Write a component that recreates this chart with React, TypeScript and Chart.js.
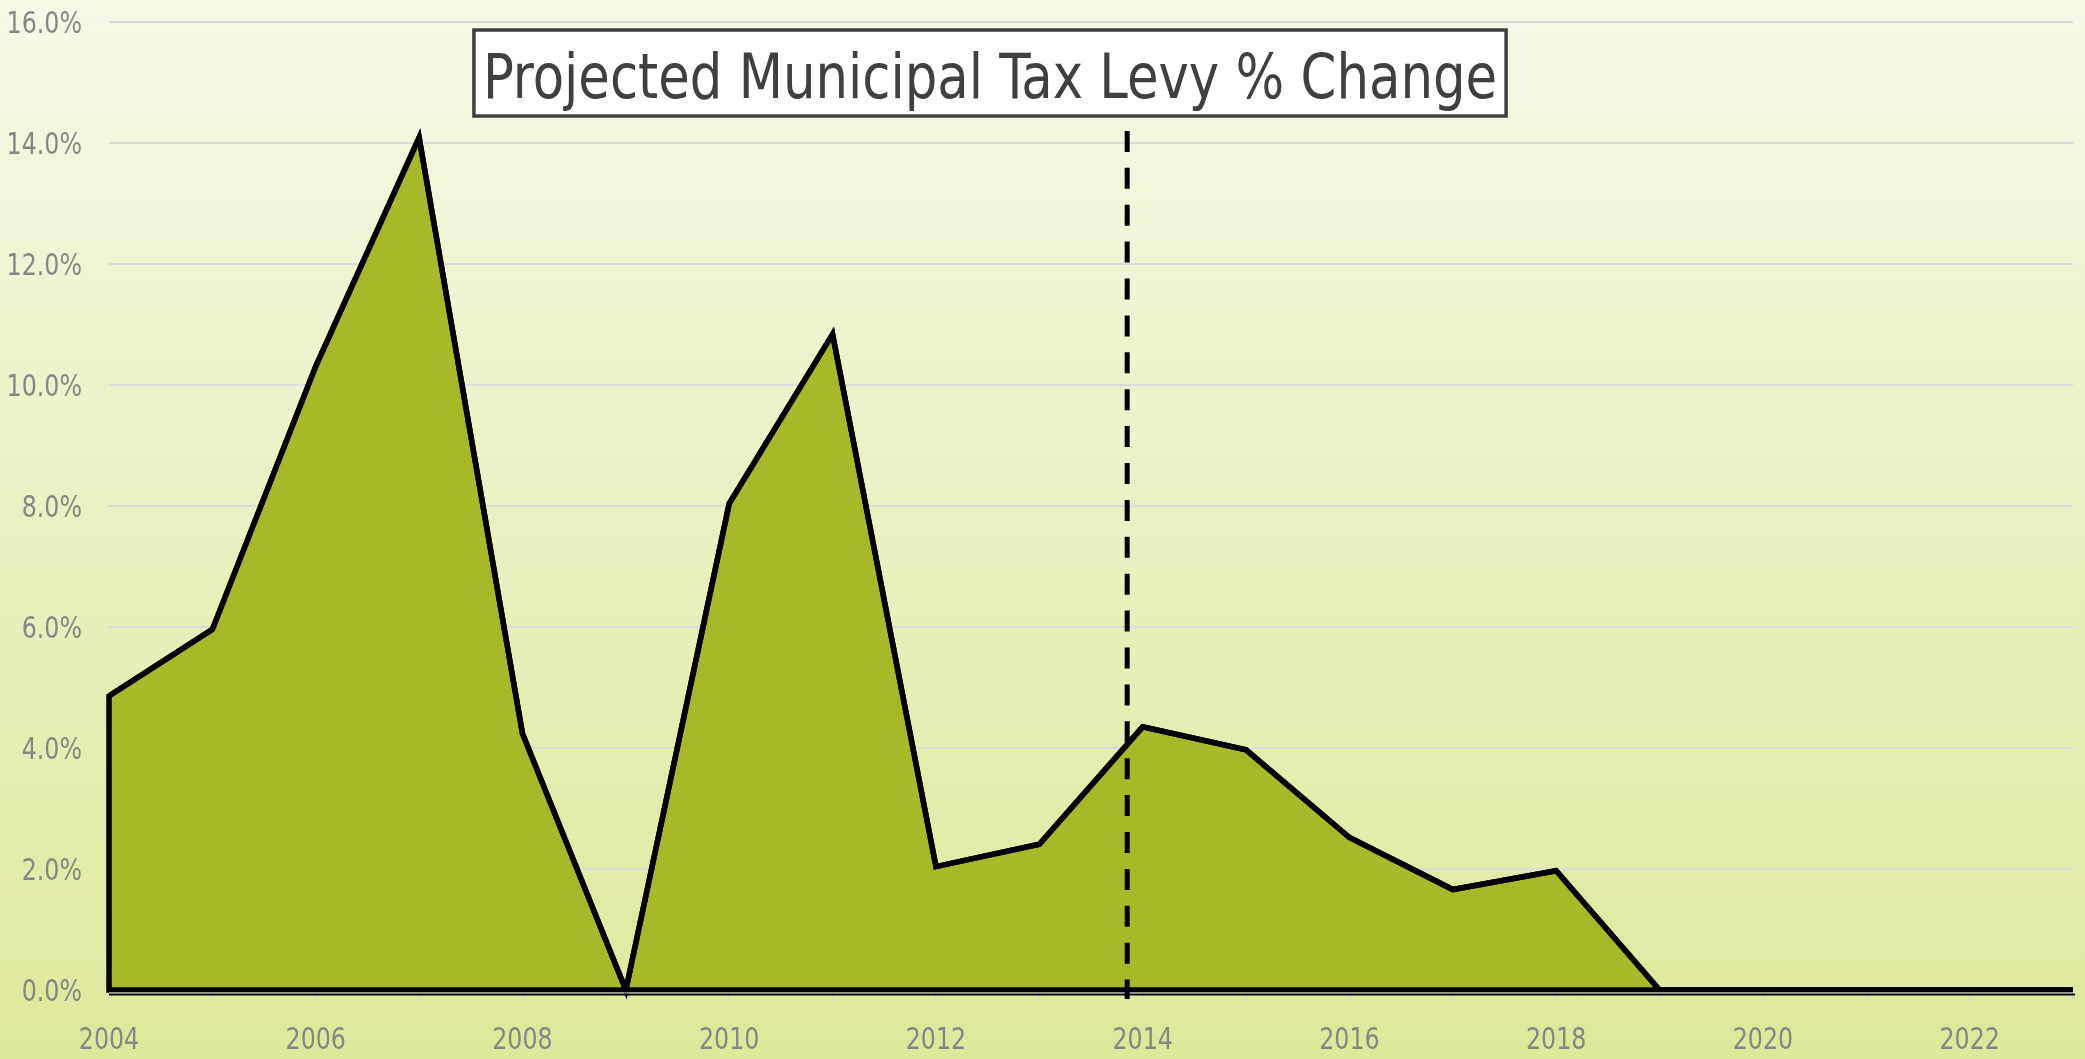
import React, { useEffect, useRef } from "react";
import { Chart, registerables } from "chart.js";

Chart.register(...registerables);

// ---- Data ----
const years: number[] = [
  2004, 2005, 2006, 2007, 2008, 2009, 2010, 2011, 2012, 2013,
  2014, 2015, 2016, 2017, 2018, 2019, 2020, 2021, 2022, 2023,
];
const levyChange: number[] = [
  4.86, 5.96, 10.31, 14.09, 4.24, 0, 8.04, 10.84, 2.04, 2.41,
  4.35, 3.97, 2.52, 1.66, 1.97, 0, 0, 0, 0, 0,
];
const yMin = 0;
const yMax = 16;
const yStep = 2;
const markerYear = 2013.85;
const markerTopValue = 14.2;
const titleText = "Projected Municipal Tax Levy % Change";

const FONT = "'Liberation Sans Narrow', 'DejaVu Sans Condensed', 'Arial Narrow', sans-serif";

const W = 2085;
const H = 1059;

const backgroundPlugin = {
  id: "bgGradient",
  beforeDraw(chart: any) {
    const { ctx, width, height } = chart;
    ctx.save();
    const g = ctx.createLinearGradient(0, 0, 0, height);
    g.addColorStop(0, "#f7f9e9");
    g.addColorStop(1, "#dee899");
    ctx.fillStyle = g;
    ctx.fillRect(0, 0, width, height);
    ctx.restore();
  },
};

function drawCondensed(ctx: any, text: string, x: number, y: number, align: string, sx: number) {
  ctx.save();
  ctx.translate(x, y);
  ctx.scale(sx, 1);
  ctx.textAlign = align;
  ctx.textBaseline = "alphabetic";
  ctx.fillText(text, 0, 0);
  ctx.restore();
}

const overlayPlugin = {
  id: "overlay",
  afterDatasetsDraw(chart: any) {
    const { ctx, chartArea, scales } = chart;
    const xs = scales.x;
    const ys = scales.y;
    const meta = chart.getDatasetMeta(0);
    const pts = meta.data;
    const y0 = ys.getPixelForValue(0);

    ctx.save();
    // Closed outline of the area
    ctx.beginPath();
    ctx.moveTo(pts[pts.length - 1].x, y0);
    ctx.lineTo(pts[0].x, y0);
    for (let i = 0; i < pts.length; i++) ctx.lineTo(pts[i].x, pts[i].y);
    ctx.closePath();
    ctx.lineJoin = "miter";
    ctx.miterLimit = 10;
    ctx.lineWidth = 5.5;
    ctx.strokeStyle = "#000";
    ctx.stroke();

    // Axis line below the series
    const bottom = chartArea.bottom;
    ctx.lineWidth = 1;
    ctx.strokeStyle = "#ffffff";
    ctx.beginPath();
    ctx.moveTo(chartArea.left, bottom + 3);
    ctx.lineTo(chartArea.right + 2, bottom + 3);
    ctx.stroke();
    ctx.lineWidth = 2.2;
    ctx.strokeStyle = "#000";
    ctx.beginPath();
    ctx.moveTo(chartArea.left, bottom + 4.5);
    ctx.lineTo(chartArea.right + 2, bottom + 4.5);
    ctx.stroke();

    // Dashed marker line
    const mx = xs.getPixelForValue(markerYear);
    const top = ys.getPixelForValue(markerTopValue);
    ctx.setLineDash([21, 15.9]);
    ctx.lineWidth = 5;
    ctx.lineCap = "butt";
    ctx.beginPath();
    ctx.moveTo(mx, top);
    ctx.lineTo(mx, bottom + 9);
    ctx.stroke();
    ctx.setLineDash([]);
    ctx.restore();
  },
  afterDraw(chart: any) {
    const { ctx, chartArea, scales } = chart;
    const xs = scales.x;
    const ys = scales.y;
    ctx.save();
    // Tick labels (condensed)
    ctx.font = `30px ${FONT}`;
    ctx.fillStyle = "#878787";
    ys.ticks.forEach((t: any, i: number) => {
      const py = ys.getPixelForTick(i);
      drawCondensed(ctx, String(t.label), chartArea.left - 27, py + 11, "right", 0.88);
    });
    xs.ticks.forEach((t: any, i: number) => {
      if (!t.label) return;
      const px = xs.getPixelForTick(i);
      drawCondensed(ctx, String(t.label), px, chartArea.bottom + 59, "center", 0.88);
    });

    // Title box
    const sx = 0.92;
    ctx.font = `62px ${FONT}`;
    const tw = ctx.measureText(titleText).width * sx;
    const cx = 990;
    const padX = 9;
    const boxTop = 30;
    const boxH = 86;
    const bx = cx - tw / 2 - padX;
    ctx.fillStyle = "#ffffff";
    ctx.fillRect(bx, boxTop, tw + padX * 2, boxH);
    ctx.lineWidth = 3.5;
    ctx.strokeStyle = "#404040";
    ctx.strokeRect(bx, boxTop, tw + padX * 2, boxH);
    ctx.fillStyle = "#404040";
    drawCondensed(ctx, titleText, cx, 98, "center", sx);
    ctx.restore();
  },
};

export default function App() {
  const canvasRef = useRef<HTMLCanvasElement | null>(null);

  useEffect(() => {
    if (!canvasRef.current) return;
    const chart = new Chart(canvasRef.current, {
      type: "line",
      data: {
        datasets: [
          {
            label: titleText,
            data: years.map((y, i) => ({ x: y, y: levyChange[i] })),
            borderColor: "#000000",
            borderWidth: 5.5,
            backgroundColor: "#a7b929",
            fill: "origin",
            pointRadius: 0,
            tension: 0,
            borderJoinStyle: "miter",
          },
        ],
      },
      options: {
        responsive: false,
        animation: false,
        devicePixelRatio: 1,
        layout: { padding: { top: 22, right: 12, left: 0, bottom: 0 } },
        plugins: {
          legend: { display: false },
          title: { display: false },
          tooltip: { enabled: false },
        },
        scales: {
          x: {
            type: "linear",
            min: years[0],
            max: years[years.length - 1],
            border: { display: false },
            grid: {
              drawOnChartArea: false,
              drawTicks: true,
              tickLength: 11,
              color: "#d6d6d6",
              lineWidth: 1.5,
            },
            ticks: {
              display: false,
              stepSize: 1,
              autoSkip: false,
              maxRotation: 0,
              callback: (v: any) => (Number(v) % 2 === 0 ? String(v) : ""),
            },
            afterFit: (scale: any) => {
              scale.height = 69;
            },
          },
          y: {
            min: yMin,
            max: yMax,
            border: { display: false },
            grid: {
              drawTicks: false,
              color: "#dcdcdc",
              lineWidth: 2,
            },
            ticks: {
              display: false,
              stepSize: yStep,
              callback: (v: any) => Number(v).toFixed(1) + "%",
            },
            afterFit: (scale: any) => {
              scale.width = 109;
            },
          },
        },
      },
      plugins: [backgroundPlugin, overlayPlugin],
    });
    return () => chart.destroy();
  }, []);

  return (
    <div style={{ position: "absolute", left: 0, top: 0, width: W, height: H }}>
      <canvas ref={canvasRef} width={W} height={H} style={{ display: "block", width: W, height: H }} />
    </div>
  );
}
